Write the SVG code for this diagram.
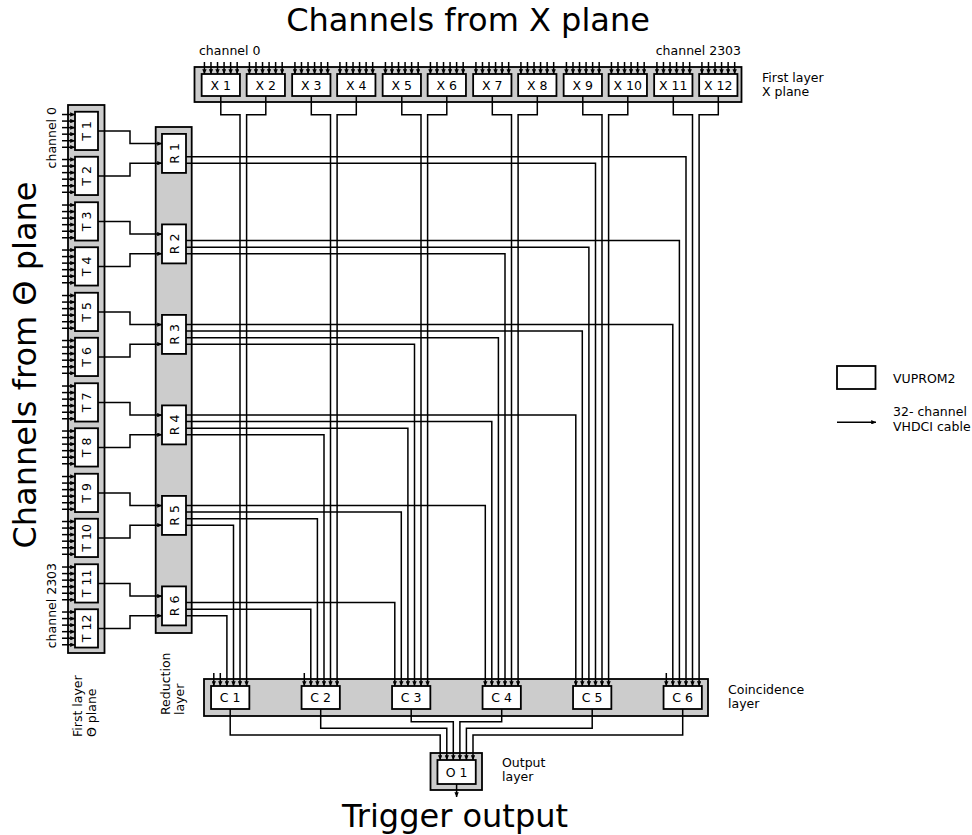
<svg xmlns="http://www.w3.org/2000/svg" width="972" height="835" viewBox="0 0 972 835">
<style>
.ln{fill:none;stroke:#000;stroke-width:1.5;marker-end:url(#ah)}
.box{fill:#fff;stroke:#000;stroke-width:1.8}
.bg{fill:#ccc;stroke:#000;stroke-width:1.8}
.t{font-family:"DejaVu Sans",sans-serif;font-size:12.5px;fill:#000;text-anchor:middle}
.lb{font-family:"DejaVu Sans",sans-serif;font-size:12.5px;fill:#000}
.big{font-family:"DejaVu Sans",sans-serif;font-size:32px;fill:#000;text-anchor:middle}
</style>
<defs>
<marker id="ah" markerUnits="userSpaceOnUse" markerWidth="5" markerHeight="4.4" refX="4.8" refY="2.2" orient="auto" viewBox="0 0 5 4.4"><path d="M0,0 L5,2.2 L0,4.4 z" fill="#000"/></marker>
<g id="xs">
<path class="ln" d="M-16.375,-12V0"/><path class="ln" d="M-9.825,-12V0"/><path class="ln" d="M-3.275,-12V0"/><path class="ln" d="M3.275,-12V0"/><path class="ln" d="M9.825,-12V0"/><path class="ln" d="M16.375,-12V0"/>
</g>
<g id="ts">
<path class="ln" d="M-13,-16.375H0"/><path class="ln" d="M-13,-9.825H0"/><path class="ln" d="M-13,-3.275H0"/><path class="ln" d="M-13,3.275H0"/><path class="ln" d="M-13,9.825H0"/><path class="ln" d="M-13,16.375H0"/>
</g>
</defs>

<text x="468" y="31" class="big">Channels from X plane</text>
<text class="big" transform="translate(36,365) rotate(-90)">Channels from Θ plane</text>
<text x="455" y="827" class="big">Trigger output</text>

<g id="layers">
<rect id="layerX" class="bg" x="194.5" y="67" width="547" height="35"/>
<rect id="layerT" class="bg" x="68" y="105" width="36.5" height="548"/>
<rect id="layerR" class="bg" x="155.7" y="127" width="36" height="506"/>
<rect id="layerC" class="bg" x="204" y="679" width="504" height="37"/>
<rect id="layerO" class="bg" x="430.5" y="753" width="51.5" height="37"/>
</g>

<g id="connectors">
<path class="ln" d="M98,130.9H130V143.6H162"/>
<path class="ln" d="M98,175.9H130V163.2H162"/>
<path class="ln" d="M98,221.4H130V234.1H162"/>
<path class="ln" d="M98,266.4H130V253.7H162"/>
<path class="ln" d="M98,311.9H130V324.6H162"/>
<path class="ln" d="M98,356.9H130V344.2H162"/>
<path class="ln" d="M98,402.4H130V415.1H162"/>
<path class="ln" d="M98,447.4H130V434.7H162"/>
<path class="ln" d="M98,492.9H130V505.6H162"/>
<path class="ln" d="M98,537.9H130V525.2H162"/>
<path class="ln" d="M98,583.4H130V596.1H162"/>
<path class="ln" d="M98,628.4H130V615.7H162"/>

<path class="ln" d="M220.8,96V114.7H240V686"/>
<path class="ln" d="M265.8,96V114.7H246.6V686"/>
<path class="ln" d="M311.3,96V114.7H330.5V686"/>
<path class="ln" d="M356.3,96V114.7H337.1V686"/>
<path class="ln" d="M401.8,96V114.7H421V686"/>
<path class="ln" d="M446.8,96V114.7H427.6V686"/>
<path class="ln" d="M492.3,96V114.7H511.5V686"/>
<path class="ln" d="M537.3,96V114.7H518.1V686"/>
<path class="ln" d="M582.8,96V114.7H602V686"/>
<path class="ln" d="M627.8,96V114.7H608.6V686"/>
<path class="ln" d="M673.3,96V114.7H692.5V686"/>
<path class="ln" d="M718.3,96V114.7H699.1V686"/>

<path class="ln" d="M186,156.7H686V686"/>
<path class="ln" d="M186,163.2H595.5V686"/>
<path class="ln" d="M186,240.6H679.4V686"/>
<path class="ln" d="M186,247.2H588.9V686"/>
<path class="ln" d="M186,253.7H505V686"/>
<path class="ln" d="M186,324.6H672.8V686"/>
<path class="ln" d="M186,331.1H582.3V686"/>
<path class="ln" d="M186,337.7H498.4V686"/>
<path class="ln" d="M186,344.2H414.5V686"/>
<path class="ln" d="M186,415.1H575.8V686"/>
<path class="ln" d="M186,421.6H491.8V686"/>
<path class="ln" d="M186,428.2H407.9V686"/>
<path class="ln" d="M186,434.7H324V686"/>
<path class="ln" d="M186,505.6H485.3V686"/>
<path class="ln" d="M186,512.1H401.3V686"/>
<path class="ln" d="M186,518.7H317.4V686"/>
<path class="ln" d="M186,525.2H233.5V686"/>
<path class="ln" d="M186,602.6H394.8V686"/>
<path class="ln" d="M186,609.2H310.8V686"/>
<path class="ln" d="M186,615.7H226.9V686"/>

<path class="ln" d="M213.8,673V686"/>
<path class="ln" d="M220.3,673V686"/>
<path class="ln" d="M304.3,673V686"/>
<path class="ln" d="M666.3,673V686"/>

<path class="ln" d="M230.2,709V735H440.2V760"/>
<path class="ln" d="M320.7,709V728.3H446.8V760"/>
<path class="ln" d="M411.2,709V721.7H453.3V760"/>
<path class="ln" d="M501.7,709V721.7H459.9V760"/>
<path class="ln" d="M592.2,709V728.3H466.4V760"/>
<path class="ln" d="M682.7,709V735H473V760"/>
<path class="ln" d="M456.6,784V797"/>
</g>

<g id="X1"><rect class="box" x="201.65" y="74" width="38.3" height="22"/><use href="#xs" transform="translate(220.8,74)"/><text class="t" x="220.8" y="89.5">X 1</text></g>
<g id="X2"><rect class="box" x="246.65" y="74" width="38.3" height="22"/><use href="#xs" transform="translate(265.8,74)"/><text class="t" x="265.8" y="89.5">X 2</text></g>
<g id="X3"><rect class="box" x="292.15" y="74" width="38.3" height="22"/><use href="#xs" transform="translate(311.3,74)"/><text class="t" x="311.3" y="89.5">X 3</text></g>
<g id="X4"><rect class="box" x="337.15" y="74" width="38.3" height="22"/><use href="#xs" transform="translate(356.3,74)"/><text class="t" x="356.3" y="89.5">X 4</text></g>
<g id="X5"><rect class="box" x="382.65" y="74" width="38.3" height="22"/><use href="#xs" transform="translate(401.8,74)"/><text class="t" x="401.8" y="89.5">X 5</text></g>
<g id="X6"><rect class="box" x="427.65" y="74" width="38.3" height="22"/><use href="#xs" transform="translate(446.8,74)"/><text class="t" x="446.8" y="89.5">X 6</text></g>
<g id="X7"><rect class="box" x="473.15" y="74" width="38.3" height="22"/><use href="#xs" transform="translate(492.3,74)"/><text class="t" x="492.3" y="89.5">X 7</text></g>
<g id="X8"><rect class="box" x="518.15" y="74" width="38.3" height="22"/><use href="#xs" transform="translate(537.3,74)"/><text class="t" x="537.3" y="89.5">X 8</text></g>
<g id="X9"><rect class="box" x="563.65" y="74" width="38.3" height="22"/><use href="#xs" transform="translate(582.8,74)"/><text class="t" x="582.8" y="89.5">X 9</text></g>
<g id="X10"><rect class="box" x="608.65" y="74" width="38.3" height="22"/><use href="#xs" transform="translate(627.8,74)"/><text class="t" x="627.8" y="89.5">X 10</text></g>
<g id="X11"><rect class="box" x="654.15" y="74" width="38.3" height="22"/><use href="#xs" transform="translate(673.3,74)"/><text class="t" x="673.3" y="89.5">X 11</text></g>
<g id="X12"><rect class="box" x="699.15" y="74" width="38.3" height="22"/><use href="#xs" transform="translate(718.3,74)"/><text class="t" x="718.3" y="89.5">X 12</text></g>

<g id="T1"><rect class="box" x="75" y="111.75" width="23" height="38.3"/><use href="#ts" transform="translate(75,130.9)"/><text class="t" transform="translate(91,130.9) rotate(-90)">T 1</text></g>
<g id="T2"><rect class="box" x="75" y="156.75" width="23" height="38.3"/><use href="#ts" transform="translate(75,175.9)"/><text class="t" transform="translate(91,175.9) rotate(-90)">T 2</text></g>
<g id="T3"><rect class="box" x="75" y="202.25" width="23" height="38.3"/><use href="#ts" transform="translate(75,221.4)"/><text class="t" transform="translate(91,221.4) rotate(-90)">T 3</text></g>
<g id="T4"><rect class="box" x="75" y="247.25" width="23" height="38.3"/><use href="#ts" transform="translate(75,266.4)"/><text class="t" transform="translate(91,266.4) rotate(-90)">T 4</text></g>
<g id="T5"><rect class="box" x="75" y="292.75" width="23" height="38.3"/><use href="#ts" transform="translate(75,311.9)"/><text class="t" transform="translate(91,311.9) rotate(-90)">T 5</text></g>
<g id="T6"><rect class="box" x="75" y="337.75" width="23" height="38.3"/><use href="#ts" transform="translate(75,356.9)"/><text class="t" transform="translate(91,356.9) rotate(-90)">T 6</text></g>
<g id="T7"><rect class="box" x="75" y="383.25" width="23" height="38.3"/><use href="#ts" transform="translate(75,402.4)"/><text class="t" transform="translate(91,402.4) rotate(-90)">T 7</text></g>
<g id="T8"><rect class="box" x="75" y="428.25" width="23" height="38.3"/><use href="#ts" transform="translate(75,447.4)"/><text class="t" transform="translate(91,447.4) rotate(-90)">T 8</text></g>
<g id="T9"><rect class="box" x="75" y="473.75" width="23" height="38.3"/><use href="#ts" transform="translate(75,492.9)"/><text class="t" transform="translate(91,492.9) rotate(-90)">T 9</text></g>
<g id="T10"><rect class="box" x="75" y="518.75" width="23" height="38.3"/><use href="#ts" transform="translate(75,537.9)"/><text class="t" transform="translate(91,537.9) rotate(-90)">T 10</text></g>
<g id="T11"><rect class="box" x="75" y="564.25" width="23" height="38.3"/><use href="#ts" transform="translate(75,583.4)"/><text class="t" transform="translate(91,583.4) rotate(-90)">T 11</text></g>
<g id="T12"><rect class="box" x="75" y="609.25" width="23" height="38.3"/><use href="#ts" transform="translate(75,628.4)"/><text class="t" transform="translate(91,628.4) rotate(-90)">T 12</text></g>

<g id="R1"><rect class="box" x="162" y="133.9" width="24" height="39"/><text class="t" transform="translate(178.5,153.4) rotate(-90)">R 1</text></g>
<g id="R2"><rect class="box" x="162" y="224.4" width="24" height="39"/><text class="t" transform="translate(178.5,243.9) rotate(-90)">R 2</text></g>
<g id="R3"><rect class="box" x="162" y="314.9" width="24" height="39"/><text class="t" transform="translate(178.5,334.4) rotate(-90)">R 3</text></g>
<g id="R4"><rect class="box" x="162" y="405.4" width="24" height="39"/><text class="t" transform="translate(178.5,424.9) rotate(-90)">R 4</text></g>
<g id="R5"><rect class="box" x="162" y="495.9" width="24" height="39"/><text class="t" transform="translate(178.5,515.4) rotate(-90)">R 5</text></g>
<g id="R6"><rect class="box" x="162" y="586.4" width="24" height="39"/><text class="t" transform="translate(178.5,605.9) rotate(-90)">R 6</text></g>

<g id="C1"><rect class="box" x="211.05" y="686" width="38.3" height="23"/><text class="t" x="230.2" y="702">C 1</text></g>
<g id="C2"><rect class="box" x="301.55" y="686" width="38.3" height="23"/><text class="t" x="320.7" y="702">C 2</text></g>
<g id="C3"><rect class="box" x="392.05" y="686" width="38.3" height="23"/><text class="t" x="411.2" y="702">C 3</text></g>
<g id="C4"><rect class="box" x="482.55" y="686" width="38.3" height="23"/><text class="t" x="501.7" y="702">C 4</text></g>
<g id="C5"><rect class="box" x="573.05" y="686" width="38.3" height="23"/><text class="t" x="592.2" y="702">C 5</text></g>
<g id="C6"><rect class="box" x="663.55" y="686" width="38.3" height="23"/><text class="t" x="682.7" y="702">C 6</text></g>

<g id="O1"><rect class="box" x="437.45" y="760" width="38.3" height="24"/><text class="t" x="456.6" y="776.5">O 1</text></g>

<g id="labels">
<text class="lb" x="199" y="54.5">channel 0</text>
<text class="lb" x="741" y="54.5" text-anchor="end">channel 2303</text>
<text class="lb" text-anchor="end" transform="translate(56,107) rotate(-90)">channel 0</text>
<text class="lb" text-anchor="end" transform="translate(56,563) rotate(-90)">channel 2303</text>
<text class="lb" x="762" y="81.5">First layer</text>
<text class="lb" x="762" y="95.5">X plane</text>
<text class="lb" transform="translate(82,737) rotate(-90)">First layer</text>
<text class="lb" transform="translate(96,737) rotate(-90)">Θ plane</text>
<text class="lb" transform="translate(170,715) rotate(-90)">Reduction</text>
<text class="lb" transform="translate(183.5,715) rotate(-90)">layer</text>
<text class="lb" x="728" y="694">Coincidence</text>
<text class="lb" x="728" y="708">layer</text>
<text class="lb" x="502" y="767">Output</text>
<text class="lb" x="502" y="781">layer</text>
</g>

<g id="legend">
<rect class="box" x="837" y="366" width="38.5" height="23"/>
<text class="lb" x="893" y="383">VUPROM2</text>
<path class="ln" d="M837,422.3H876"/>
<text class="lb" x="893" y="416">32- channel</text>
<text class="lb" x="893" y="430.5">VHDCI cable</text>
</g>
</svg>
